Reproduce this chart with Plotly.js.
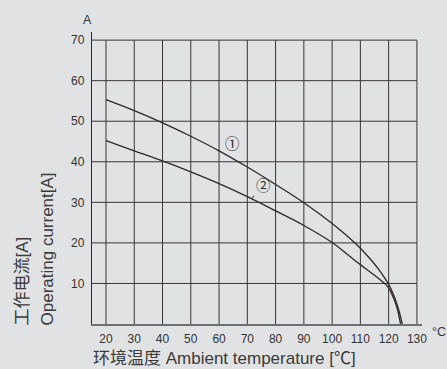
<!DOCTYPE html>
<html>
<head>
<meta charset="utf-8">
<script src="https://cdn.plot.ly/plotly-3.0.1.min.js"></script>
<style>
html,body{margin:0;padding:0;background:#e1e2e4;}
#chart{width:447px;height:369px;}
</style>
</head>
<body>
<div id="chart"></div>
<script>
// Data
const curve1X = [20, 30, 40, 50, 60, 70, 80, 90, 100, 105, 108.2, 111.6, 115, 117.5, 119.8, 121.5, 122.6, 123.8, 124.8];
const curve1Y = [55.3, 52.6, 49.6, 46.3, 42.7, 38.7, 34.4, 29.9, 24.8, 21.9, 19.9, 17.5, 14.8, 12.5, 10.0, 7.6, 5.6, 2.9, 0];
const curve2X = [20, 30, 40, 50, 60, 70, 80, 90, 100, 105, 108.2, 111.6, 115, 117.5, 119.2, 120.5, 121.8, 123.2, 124.2];
const curve2Y = [45.2, 42.7, 40.2, 37.5, 34.6, 31.4, 27.9, 24.3, 20.1, 17.4, 15.6, 13.8, 12.0, 10.6, 9.6, 8.3, 6.3, 3.4, 0];
const xTicks = [20, 30, 40, 50, 60, 70, 80, 90, 100, 110, 120, 130];
const yTicks = [10, 20, 30, 40, 50, 60, 70];
const curveLabels = ['①', '②'];
const labelAnchorX = [62, 71.5];

const FONT = 'Liberation Sans, Arial, Noto Sans CJK SC, sans-serif';
const CJK = 'Liberation Sans, Noto Sans CJK SC, sans-serif';
const ink = '#2e2829';
const gridColor = '#3a3435';

function interp(xs, ys, x) {
  for (let i = 0; i < xs.length - 1; i++) {
    if (x >= xs[i] && x <= xs[i + 1]) {
      const t = (x - xs[i]) / (xs[i + 1] - xs[i]);
      return ys[i] + t * (ys[i + 1] - ys[i]);
    }
  }
  return ys[ys.length - 1];
}

const xMin = 15.05, xMax = 131.8, yMin = 0, yMax = 72;
const xGridEnd = xTicks[xTicks.length - 1];
const yGridEnd = yTicks[yTicks.length - 1];

const shapes = [];
xTicks.forEach(v => shapes.push({type: 'line', xref: 'x', yref: 'y', x0: v, x1: v, y0: 0, y1: yGridEnd,
  line: {color: gridColor, width: 1}, layer: 'below'}));
yTicks.forEach(v => shapes.push({type: 'line', xref: 'x', yref: 'y', x0: xMin, x1: xGridEnd, y0: v, y1: v,
  line: {color: gridColor, width: 1}, layer: 'below'}));

const traces = [
  {x: curve1X, y: curve1Y, mode: 'lines', line: {color: ink, width: 1.3, shape: 'spline', smoothing: 1.0}, hoverinfo: 'skip'},
  {x: curve2X, y: curve2Y, mode: 'lines', line: {color: ink, width: 1.3, shape: 'spline', smoothing: 1.0}, hoverinfo: 'skip'}
];

const L = 92, R = 25, T = 32, B = 45;
const W = 447, H = 369;
const pw = W - L - R, ph = H - T - B;
const px = p => (p - L) / pw;
const py = p => (H - B - p) / ph;

const annotations = [
  {text: 'A', xref: 'paper', yref: 'paper', x: px(87), y: py(19.5), xanchor: 'center', yanchor: 'middle',
   showarrow: false, font: {family: FONT, size: 12.5, color: '#333'}},
  {text: '°C', xref: 'paper', yref: 'paper', x: px(439), y: py(331.5), xanchor: 'center', yanchor: 'middle',
   showarrow: false, font: {family: FONT, size: 12.5, color: '#333'}},
  {text: '环境温度 Ambient temperature [℃]', xref: 'paper', yref: 'paper', x: px(91), y: py(358.5),
   xanchor: 'left', yanchor: 'middle', showarrow: false, font: {family: CJK, size: 17, color: '#3a3a3a'}},
  {text: '工作电流[A]', xref: 'paper', yref: 'paper', x: px(22), y: py(328), textangle: -90,
   xanchor: 'center', yanchor: 'bottom', showarrow: false, font: {family: CJK, size: 17, color: '#3a3a3a'}},
  {text: 'Operating current[A]', xref: 'paper', yref: 'paper', x: px(47), y: py(328), textangle: -90,
   xanchor: 'center', yanchor: 'bottom', showarrow: false, font: {family: CJK, size: 17, color: '#3a3a3a'}}
];
const offs = [[7.7, -11.6], [11.6, -14]];
[[curve1X, curve1Y], [curve2X, curve2Y]].forEach((c, i) => {
  const xv = labelAnchorX[i];
  annotations.push({text: curveLabels[i], x: xv, y: interp(c[0], c[1], xv), xref: 'x', yref: 'y',
    showarrow: true, arrowhead: 0, arrowwidth: 1, arrowcolor: ink, ax: offs[i][0], ay: offs[i][1], standoff: 0,
    font: {family: 'Noto Sans CJK SC, DejaVu Sans', size: 14.5, color: ink}});
});

const layout = {
  width: W, height: H,
  margin: {l: L, r: R, t: T, b: B, pad: 0},
  paper_bgcolor: '#e1e2e4', plot_bgcolor: '#e1e2e4',
  showlegend: false,
  xaxis: {range: [xMin, xMax], tickvals: xTicks, ticktext: xTicks.map(String), showgrid: false, zeroline: false,
    showline: true, linecolor: '#707070', linewidth: 1.5, ticks: '', ticklabelstandoff: 3,
    tickfont: {family: FONT, size: 12, color: '#333'}},
  yaxis: {range: [yMin, yMax], tickvals: yTicks, ticktext: yTicks.map(String), showgrid: false, zeroline: false,
    showline: true, linecolor: '#2a2a2a', linewidth: 1.2, ticks: '', ticklabelstandoff: 4,
    tickfont: {family: FONT, size: 12, color: '#333'}},
  shapes: shapes,
  annotations: annotations
};

Plotly.newPlot('chart', traces, layout, {staticPlot: true, displayModeBar: false});
</script>
</body>
</html>
